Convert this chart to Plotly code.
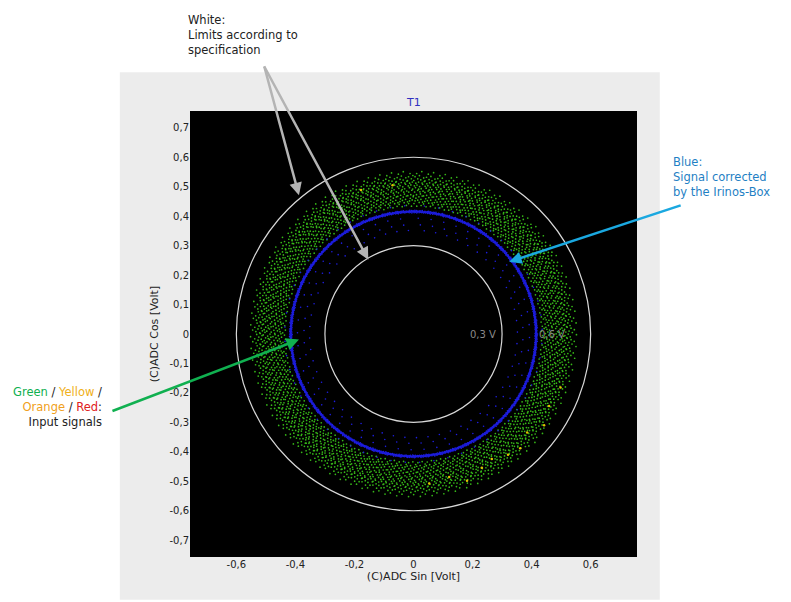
import numpy as np
import plotly.graph_objects as go

# limit circles (white) in volts
LIMIT_RADII = [0.3, 0.6]
LIMIT_LABELS = ["0,3 V", "0,6 V"]

# hand-read radius samples of the raw input ring (green), repeated around the circle
GREEN_R = [0.47, 0.521, 0.443, 0.503, 0.482, 0.534, 0.452, 0.497, 0.512, 0.461,
           0.545, 0.473, 0.506, 0.434, 0.527, 0.488, 0.455, 0.516, 0.492, 0.538,
           0.466, 0.501, 0.447, 0.483, 0.524, 0.476, 0.552, 0.494, 0.458, 0.513,
           0.437, 0.509, 0.469, 0.531, 0.486, 0.449, 0.519]
# corrected signal (blue), mostly on 0.415 with a few strays
BLUE_R = [0.415, 0.418, 0.412, 0.416, 0.42, 0.414, 0.417, 0.413, 0.415, 0.419,
          0.411, 0.416, 0.414, 0.418, 0.415, 0.393, 0.417, 0.412, 0.416, 0.419,
          0.414, 0.415, 0.418, 0.371, 0.413, 0.416, 0.42, 0.414, 0.417, 0.415,
          0.412, 0.436, 0.416, 0.414, 0.418, 0.415, 0.413, 0.417, 0.352, 0.416, 0.414]
# yellow / orange points on the lower right part of the ring
WARN_ANGLE_DEG = [-20, -28, -35, -41, -47, -52, -58, -63, -70, -76, -84, -250, -262]
WARN_R = [0.53, 0.52, 0.54, 0.51, 0.53, 0.52, 0.50, 0.51, 0.53, 0.50, 0.51, 0.52, 0.51]
TICKS = [-0.7, -0.6, -0.5, -0.4, -0.3, -0.2, -0.1, 0, 0.1, 0.2, 0.3, 0.4, 0.5, 0.6, 0.7]
X_TICKS = [-0.6, -0.4, -0.2, 0, 0.2, 0.4, 0.6]

def fmt(v):
    return ("%g" % v).replace(".", ",")

n_green = 3203
a_g = np.linspace(0, 2 * np.pi, n_green, endpoint=False)
r_g = np.resize(GREEN_R, n_green)
n_blue = 2311
a_b = np.linspace(0, 2 * np.pi, n_blue, endpoint=False)
r_b = np.resize(BLUE_R, n_blue)
a_w = np.radians(WARN_ANGLE_DEG)

fig = go.Figure()
# grey panel and black plot area
fig.add_shape(type="rect", xref="paper", yref="paper", x0=-0.157, x1=1.051, y0=-0.096, y1=1.087,
              fillcolor="#ececec", line_width=0, layer="below")
fig.add_shape(type="rect", xref="paper", yref="paper", x0=0, x1=1, y0=0, y1=1,
              fillcolor="black", line_width=0, layer="below")
for r in LIMIT_RADII:
    fig.add_shape(type="circle", x0=-r, x1=r, y0=-r, y1=r, line=dict(color="#d8d8d8", width=1.2))
fig.add_trace(go.Scatter(x=r_g * np.sin(a_g), y=r_g * np.cos(a_g), mode="markers",
                         marker=dict(size=1.7, color="#36b818"), hoverinfo="skip"))
fig.add_trace(go.Scatter(x=r_b * np.sin(a_b), y=r_b * np.cos(a_b), mode="markers",
                         marker=dict(size=1.6, color="#1e1ee0"), hoverinfo="skip"))
fig.add_trace(go.Scatter(x=np.array(WARN_R) * np.cos(a_w), y=np.array(WARN_R) * np.sin(a_w),
                         mode="markers", marker=dict(size=2.5, color="#e0c000"), hoverinfo="skip"))

for r, t in zip(LIMIT_RADII, LIMIT_LABELS):
    fig.add_annotation(x=r * 0.78, y=0, text=t, showarrow=False, font=dict(color="#8a8a8a", size=10))

fig.add_annotation(xref="paper", yref="paper", x=0.5, y=1.0, yanchor="bottom", text="T1",
                   showarrow=False, font=dict(color="#3030c0", size=11))

arrow = dict(showarrow=True, arrowhead=2, arrowsize=1, arrowwidth=2.5, axref="pixel", ayref="pixel")
fig.add_annotation(x=-0.388, y=0.471, ax=-35, ay=-130, text="", arrowcolor="#b4b4b4", **arrow)
fig.add_annotation(x=-0.153, y=0.252, ax=-105, ay=-195, text="", arrowcolor="#b4b4b4", **arrow)
fig.add_annotation(x=0.324, y=0.245, ax=173, ay=-57, text="", arrowcolor="#1aa8e0", **arrow)
fig.add_annotation(x=-0.388, y=-0.019, ax=-188, ay=72, text="", arrowcolor="#10b050", **arrow)

fig.add_annotation(xref="paper", yref="paper", x=-0.01, y=1.225, xanchor="left", yanchor="top", align="left",
                   text="White:<br>Limits according to<br>specification", showarrow=False,
                   font=dict(size=11.5, color="#222"))
fig.add_annotation(xref="paper", yref="paper", x=1.075, y=0.905, xanchor="left", yanchor="top", align="left",
                   text="Blue:<br>Signal corrected<br>by the Irinos-Box", showarrow=False,
                   font=dict(size=11.5, color="#1f7fc4"))
fig.add_annotation(xref="paper", yref="paper", x=-0.193, y=0.39, xanchor="right", yanchor="top", align="right",
                   text="<span style='color:#10b050'>Green</span> / <span style='color:#f0b020'>Yellow</span> /<br>"
                        "<span style='color:#f0a020'>Orange</span> / <span style='color:#e02020'>Red</span>:<br>Input signals",
                   showarrow=False, font=dict(size=11.5, color="#222"))

axis = dict(range=[-0.757, 0.757], showgrid=False, zeroline=False, ticks="",
            tickfont=dict(size=10, color="#222"), title_font=dict(size=11, color="#222"))
fig.update_layout(
    width=791, height=602, showlegend=False,
    margin=dict(l=182, r=162, t=103, b=53),
    paper_bgcolor="white", plot_bgcolor="black",
    font=dict(family="DejaVu Sans"),
    xaxis=dict(axis, tickvals=X_TICKS, ticktext=[fmt(v) for v in X_TICKS],
               title=dict(text="(C)ADC Sin [Volt]", standoff=2)),
    yaxis=dict(axis, tickvals=TICKS, ticktext=[fmt(v) for v in TICKS],
               title=dict(text="(C)ADC Cos [Volt]", standoff=8)),
)
fig.write_html("out.html")
